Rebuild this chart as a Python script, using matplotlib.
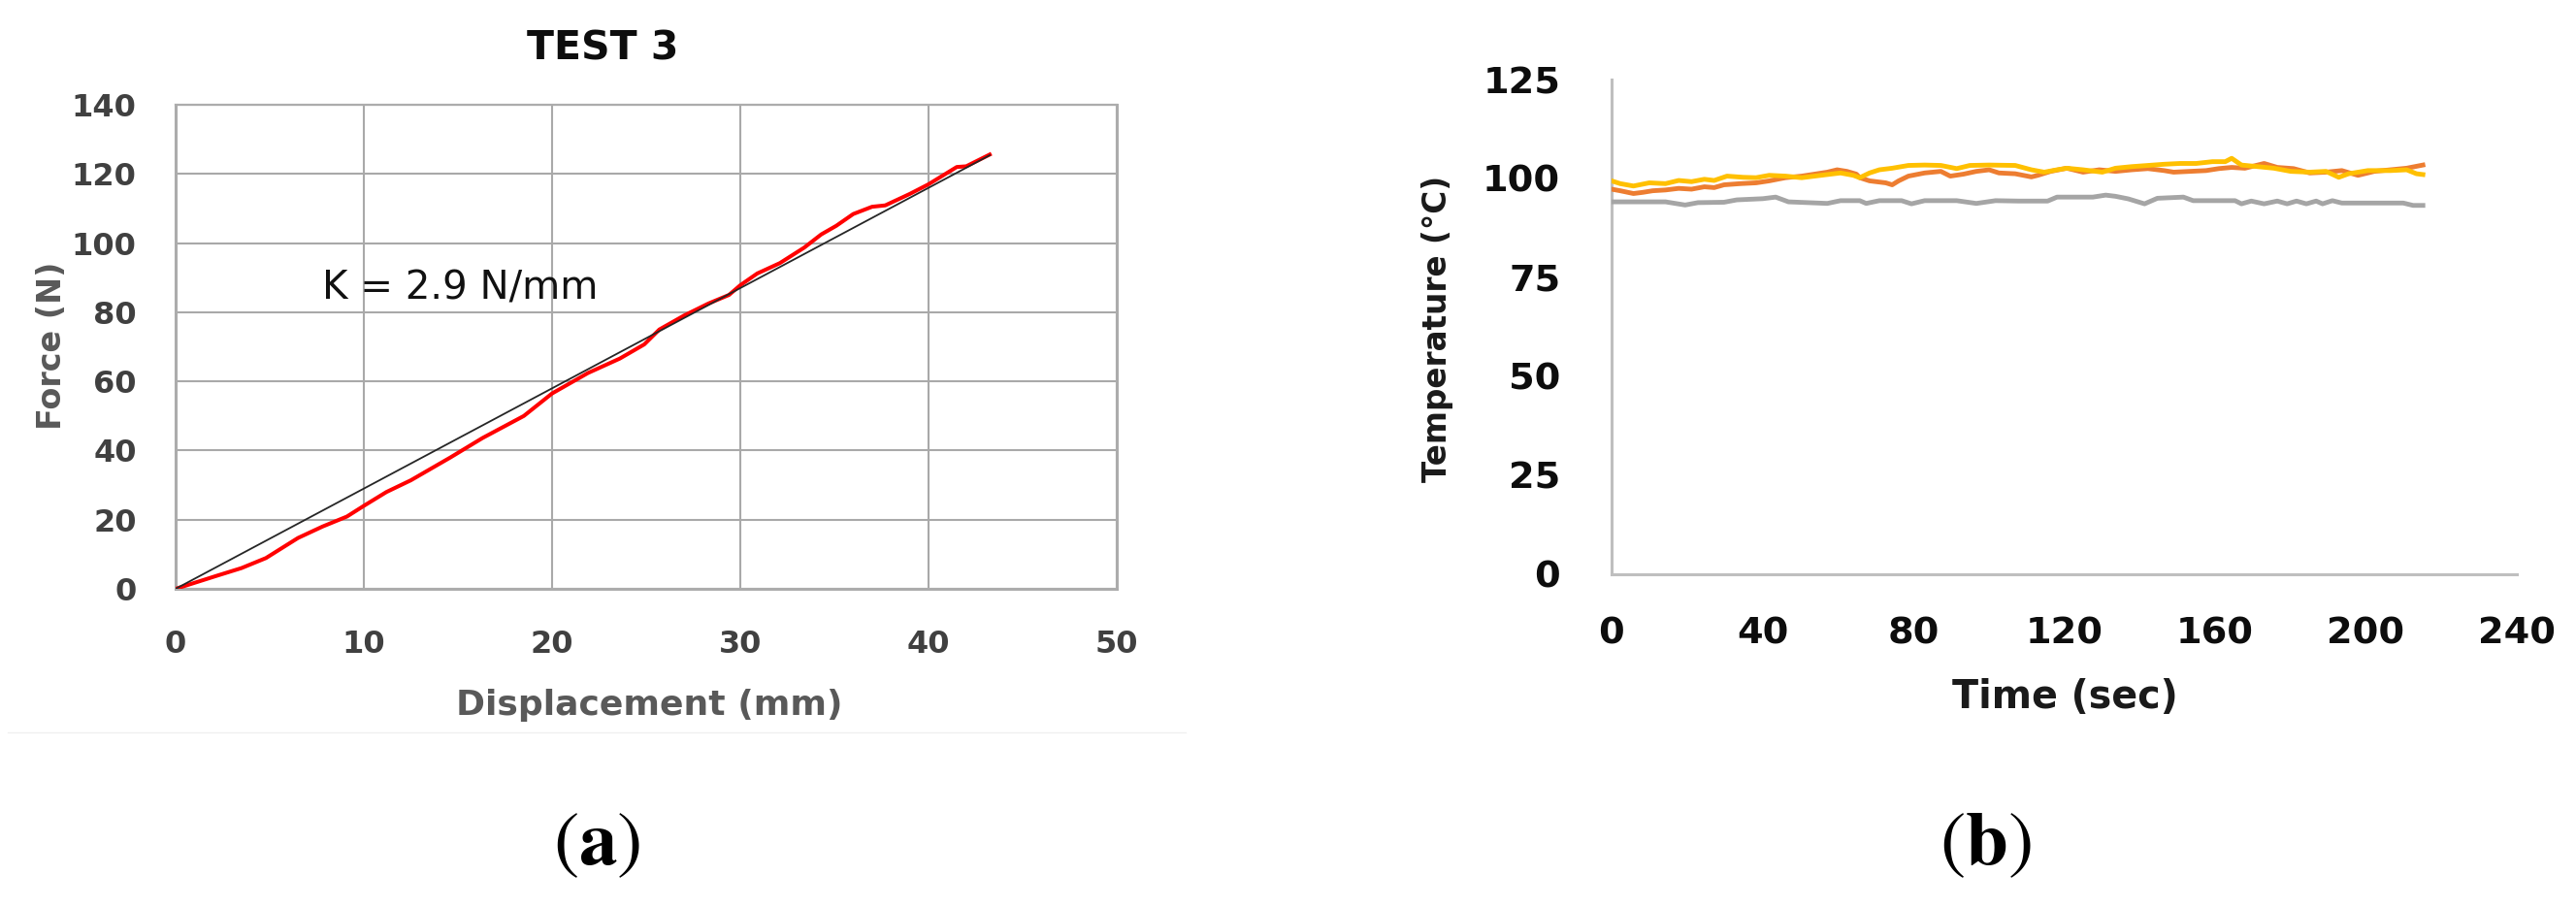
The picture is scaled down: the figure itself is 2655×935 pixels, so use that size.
import matplotlib
matplotlib.use("Agg")
import matplotlib.pyplot as plt
from matplotlib.lines import Line2D

# ---------------- data ----------------
# (a) force vs displacement
DISP_MM = [0, 2.2, 3.5, 4.8, 6.5, 7.8, 9.1, 10.0, 11.2, 12.5, 14.6, 16.3, 18.5, 20.0,
           21.9, 23.6, 24.9, 25.7, 27.0, 28.3, 29.4, 30.0, 30.9, 32.1, 33.4, 34.3,
           35.1, 36.0, 37.0, 37.7, 39.0, 40.0, 41.5, 42.0, 43.25]
FORCE_N = [0, 3.8, 6.0, 8.9, 14.7, 18.0, 20.9, 24.0, 28.0, 31.4, 38.0, 43.6, 50.0, 56.5,
           62.4, 66.6, 70.7, 75.0, 79.0, 82.5, 85.0, 87.8, 91.2, 94.2, 98.7, 102.5,
           105.0, 108.4, 110.5, 110.9, 114.2, 117.0, 122.0, 122.2, 125.6]
FIT_X = [0, 43.25]
FIT_Y = [0, 125.4]
FIT_LABEL = "K = 2.9 N/mm"
LEFT_XTICKS = [0, 10, 20, 30, 40, 50]
LEFT_YTICKS = [0, 20, 40, 60, 80, 100, 120, 140]

# (b) temperature vs time
ORANGE_T = [0, 2.3, 5.8, 8.3, 10.9, 14.3, 17.8, 21.2, 24.6, 27.2, 29.8, 34.1, 38.3, 41.8,
            46.1, 50.4, 53.8, 57.2, 59.8, 62.4, 64.9, 65.8, 68.4, 72.7, 74.4, 76.1, 78.7,
            83.0, 87.3, 89.8, 93.3, 96.7, 100.1, 102.7, 107.0, 111.3, 113.0, 116.4, 120.7,
            125.0, 129.3, 133.6, 137.9, 142.2, 146.5, 149.0, 153.3, 157.6, 161.0, 164.4,
            167.9, 173.0, 176.5, 180.8, 185.1, 189.4, 193.6, 197.9, 202.2, 206.5, 210.8, 215.1]
ORANGE_C = [97.3, 96.9, 96.2, 96.5, 96.9, 97.1, 97.5, 97.3, 97.9, 97.7, 98.4, 98.7, 98.9, 99.4,
            100.2, 100.6, 101.1, 101.6, 102.2, 101.8, 101.1, 100.2, 99.4, 98.9, 98.4, 99.4, 100.6,
            101.4, 101.8, 100.6, 101.1, 101.8, 102.2, 101.4, 101.2, 100.4, 100.8, 101.8, 102.6,
            101.6, 102.2, 101.8, 102.2, 102.5, 102.0, 101.6, 101.8, 102.0, 102.5, 102.8,
            102.6, 103.8, 102.8, 102.5, 101.4, 101.6, 102.0, 100.8, 101.8, 102.2, 102.6, 103.4]

YELLOW_T = [0, 2.3, 5.8, 10.0, 14.3, 17.8, 21.2, 24.6, 27.2, 30.6, 34.9, 38.3, 41.8, 46.1,
            50.4, 53.8, 57.2, 60.7, 64.1, 65.8, 68.4, 71.0, 74.4, 78.7, 83.0, 87.3, 91.5, 95.0,
            100.1, 107.0, 111.3, 114.7, 118.1, 120.7, 125.0, 130.1, 133.6, 137.9, 142.2, 146.5,
            150.7, 155.0, 159.3, 162.7, 164.4, 167.0, 171.3, 175.6, 180.1, 185.1, 189.4, 192.8,
            195.4, 200.5, 206.5, 210.8, 213.4, 215.1]
YELLOW_C = [99.4, 98.7, 98.1, 98.9, 98.7, 99.5, 99.2, 99.8, 99.5, 100.6, 100.3, 100.2, 100.8, 100.6,
            100.2, 100.6, 101.0, 101.4, 100.8, 100.2, 101.4, 102.2, 102.6, 103.3, 103.4, 103.3, 102.5, 103.3,
            103.4, 103.3, 102.2, 101.6, 102.2, 102.6, 102.2, 101.6, 102.6, 103.0, 103.3, 103.6,
            103.8, 103.8, 104.25, 104.25, 105.1, 103.4, 103.0, 102.6, 101.8, 101.6, 101.8, 100.3,
            101.2, 102.0, 102.0, 102.2, 101.2, 101.0]

GRAY_T = [0.2, 14.3, 19.5, 22.9, 29.8, 33.2, 40.1, 43.5, 46.9, 52.1, 57.2, 60.7, 65.8, 67.5,
          71.0, 76.9, 79.5, 83.0, 91.5, 96.7, 101.8, 107.9, 115.6, 118.1, 127.6, 131.0, 133.6,
          137.0, 141.3, 144.7, 151.6, 154.2, 165.3, 167.0, 169.6, 173.0, 176.5, 179.1, 181.6,
          184.2, 186.8, 188.5, 191.1, 193.6, 209.9, 212.5, 215.1]
GRAY_C = [94.1, 94.1, 93.3, 93.9, 94.0, 94.6, 94.9, 95.3, 94.1, 93.9, 93.7, 94.4, 94.4, 93.7,
          94.4, 94.4, 93.6, 94.4, 94.4, 93.7, 94.4, 94.3, 94.3, 95.3, 95.3, 95.8, 95.5,
          94.85, 93.6, 95.0, 95.3, 94.4, 94.4, 93.6, 94.3, 93.6, 94.3, 93.6, 94.3,
          93.6, 94.3, 93.6, 94.4, 93.8, 93.8, 93.2, 93.2]
RIGHT_XTICKS = [0, 40, 80, 120, 160, 200, 240]
RIGHT_YTICKS = [0, 25, 50, 75, 100, 125]

# ---------------- figure ----------------
plt.rcParams['mathtext.fontset'] = 'stix'
fig = plt.figure(figsize=(26.55, 9.35), dpi=100)
W, H = 2655, 935

def box(x0, y0, x1, y1):
    return [x0 / W, 1 - y1 / H, (x1 - x0) / W, (y1 - y0) / H]

# ---- (a) ----
axL = fig.add_axes(box(181, 108, 1151, 607))
axL.set_xlim(0, 50)
axL.set_ylim(0, 140)
axL.set_xticks(LEFT_XTICKS)
axL.set_yticks(LEFT_YTICKS)
axL.grid(True, color='#a9a9a9', linewidth=1.5, zorder=0)
axL.set_axisbelow(True)
for s in axL.spines.values():
    s.set_color('#acacac')
    s.set_linewidth(2.2)
axL.spines['top'].set_linewidth(1.6)
axL.tick_params(length=0, labelsize=23, labelcolor='#404040')
axL.tick_params(axis='y', pad=29)
axL.tick_params(axis='x', pad=30)
for lab in axL.get_xticklabels() + axL.get_yticklabels():
    lab.set_fontweight('bold')
axL.plot(DISP_MM, FORCE_N, color='#ff0000', linewidth=2.9, zorder=3)
axL.plot(FIT_X, FIT_Y, color='#262626', linewidth=1.3, zorder=4)
axL.text(7.8, 86.7, FIT_LABEL, fontsize=29, color='#111111', ha='left', va='center')
axL.set_xlabel('Displacement (mm)', fontsize=26, fontweight='bold', color='#595959', va='center')
axL.xaxis.set_label_coords(0.503, -0.2405)
axL.set_ylabel('Force (N)', fontsize=24, fontweight='bold', color='#595959', va='center')
axL.yaxis.set_label_coords(-0.131, 0.503)
fig.text(621 / W, 1 - 51 / H, 'TEST 3', fontsize=29.5, fontweight='bold', color='#0d0d0d',
         ha='center', va='center')
fig.add_artist(Line2D([8 / W, 1222 / W], [1 - 755 / H, 1 - 755 / H],
                      color='#f0f0f0', linewidth=1.0))

# ---- (b) ----
axR = fig.add_axes(box(1661, 82, 2594, 592))
axR.set_xlim(0, 240)
axR.set_ylim(0, 125)
axR.set_xticks(RIGHT_XTICKS)
axR.set_yticks(RIGHT_YTICKS)
for side in ('top', 'right'):
    axR.spines[side].set_visible(False)
for side in ('left', 'bottom'):
    axR.spines[side].set_color('#bfbfbf')
    axR.spines[side].set_linewidth(2.2)
axR.tick_params(length=0, labelsize=27.5, labelcolor='#0d0d0d')
axR.tick_params(axis='y', pad=38)
axR.tick_params(axis='x', pad=31)
for lab in axR.get_xticklabels() + axR.get_yticklabels():
    lab.set_fontweight('bold')
axR.plot(ORANGE_T, ORANGE_C, color='#ed7d31', linewidth=3.5, zorder=3)
axR.plot(GRAY_T, GRAY_C, color='#a5a5a5', linewidth=3.5, zorder=3)
axR.plot(YELLOW_T, YELLOW_C, color='#ffc000', linewidth=3.5, zorder=4)
axR.set_xlabel('Time (sec)', fontsize=28.5, fontweight='bold', color='#1a1a1a', va='center')
axR.xaxis.set_label_coords(0.5005, -0.249)
axR.set_ylabel('Temperature (°C)', fontsize=23.5, fontweight='bold', color='#1a1a1a', va='center')
axR.yaxis.set_label_coords(-0.192, 0.497)

# ---- panel letters ----
fig.text(615 / W, 1 - 869 / H, r'$(\mathbf{a})$', fontsize=57, color='black',
         ha='center', va='center')
fig.text(2046 / W, 1 - 869 / H, r'$(\mathbf{b})$', fontsize=57, color='black',
         ha='center', va='center')

fig.savefig('out.png', dpi=100, facecolor='white')
